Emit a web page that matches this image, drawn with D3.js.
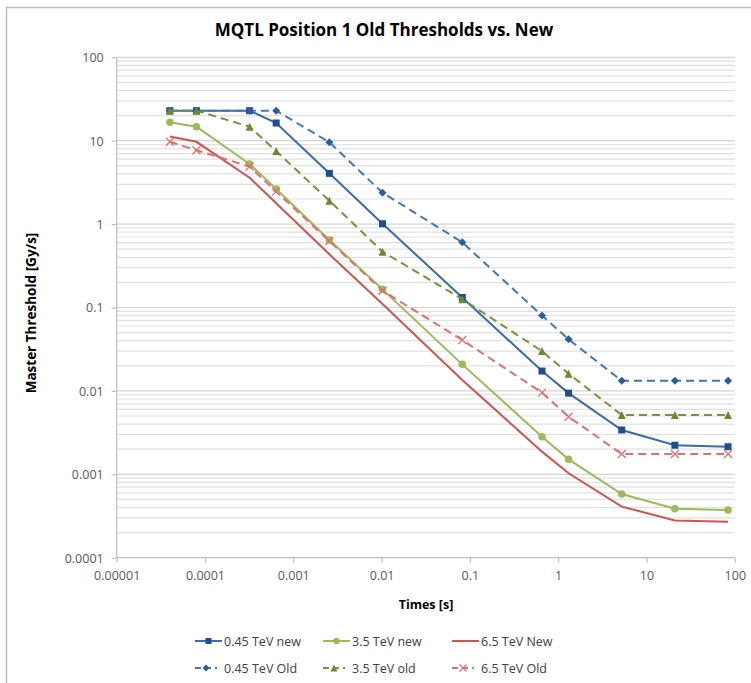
<!DOCTYPE html>
<html><head><meta charset="utf-8">
<script src="https://cdn.jsdelivr.net/npm/d3@7"></script>
<style>body{margin:0;background:#fff;} svg{display:block;}</style>
</head><body>
<svg id="c" width="751" height="683"></svg>
<script>
const times = [4e-5, 8e-5, 3.2e-4, 6.4e-4, 2.56e-3, 1.024e-2, 8.192e-2, 0.65536, 1.31072, 5.24288, 20.97152, 83.88608];
const new045 = [22.9, 22.9, 22.9, 16.3, 4.06, 1.01, 0.132, 0.0173, 0.0094, 0.0034, 0.00223, 0.00214];
const new35  = [16.6, 14.7, 5.26, 2.64, 0.645, 0.165, 0.0208, 0.00282, 0.00151, 0.00058, 0.000387, 0.000373];
const new65  = [11.2, 9.7, 3.6, 1.78, 0.434, 0.110, 0.0135, 0.00187, 0.00103, 0.00041, 0.00028, 0.00027];
const old045 = [22.9, 22.9, 22.9, 22.9, 9.6, 2.38, 0.605, 0.080, 0.0416, 0.0132, 0.0132, 0.0132];
const old35  = [22.9, 22.9, 14.7, 7.5, 1.91, 0.467, 0.126, 0.030, 0.0161, 0.00514, 0.00514, 0.00514];
const old65  = [9.7, 7.7, 4.9, 2.45, 0.627, 0.159, 0.0408, 0.00953, 0.0049, 0.00175, 0.00175, 0.00175];
const seriesNames = ["0.45 TeV new", "3.5 TeV new", "6.5 TeV New", "0.45 TeV Old", "3.5 TeV old", "6.5 TeV Old"];
const xTickLabels = ["0.00001", "0.0001", "0.001", "0.01", "0.1", "1", "10", "100"];
const yTickLabels = ["0.0001", "0.001", "0.01", "0.1", "1", "10", "100"];
const title = "MQTL Position 1 Old Thresholds vs. New";
const xTitle = "Times [s]";
const yTitle = "Master Threshold [Gy/s]";

const styles = [
  {line:"#3B6BAA", fill:"#1F4E8C", dash:null, marker:"square"},
  {line:"#9BBB59", fill:"#9BBB59", dash:null, marker:"circle"},
  {line:"#D05450", fill:"#D05450", dash:null, marker:"none"},
  {line:"#4676B5", fill:"#2B5C9E", dash:"8,5", marker:"diamond"},
  {line:"#77933C", fill:"#6A8A30", dash:"8,5", marker:"triangle"},
  {line:"#E07070", fill:"#E07070", dash:"8,5", marker:"x"}
];
const data = [new045, new35, new65, old045, old35, old65];

const svg = d3.select("#c");
const font = "'Open Sans', 'Liberation Sans', sans-serif";

// chart border
svg.append("rect").attr("x",6.5).attr("y",7.5).attr("width",800).attr("height",800)
  .attr("fill","#fff").attr("stroke","#BDBDBD").attr("stroke-width",1.5);

const L = 116.7, R = 734.8, T = 57.3, B = 557.7;
const x = d3.scaleLog().domain([1e-5, 100]).range([L, R]);
const y = d3.scaleLog().domain([1e-4, 100]).range([B, T]);

// gridlines (major + minor)
const g = svg.append("g");
const majors = yTickLabels.map(Number);
const minorVals = [];
for (let e = -4; e < 2; e++) for (let k = 2; k <= 9; k++) minorVals.push(k * Math.pow(10, e));
g.selectAll("line.minor").data(minorVals).join("line")
  .attr("x1", L).attr("x2", R).attr("y1", d => y(d)).attr("y2", d => y(d))
  .attr("stroke", "#E1E1E1").attr("stroke-width", 1.2);
g.selectAll("line.major").data(majors.slice(1)).join("line")
  .attr("x1", L).attr("x2", R).attr("y1", d => y(d)).attr("y2", d => y(d))
  .attr("stroke", "#D4D4D4").attr("stroke-width", 1.2);

// axes
const xAxis = d3.axisBottom(x).tickValues(xTickLabels.map(Number)).tickFormat((d,i)=>xTickLabels[i]).tickSize(5).tickPadding(6);
const yAxis = d3.axisLeft(y).tickValues(majors).tickFormat((d,i)=>yTickLabels[i]).tickSize(5).tickPadding(8);
const gx = svg.append("g").attr("transform", `translate(0,${B})`).call(xAxis);
const gy = svg.append("g").attr("transform", `translate(${L},0)`).call(yAxis);
[gx, gy].forEach(a => {
  a.select(".domain").attr("stroke", "#BFBFBF").attr("stroke-width", 1.2);
  a.selectAll(".tick line").attr("stroke", "#BFBFBF").attr("stroke-width", 1.2);
  a.selectAll(".tick text").attr("fill", "#595959").style("font-family", font).style("font-size", "12.5px");
});
gx.select(".domain").attr("d", `M${L},0H${R}`);
gy.select(".domain").attr("d", `M0,${B}V${T}`);
gx.selectAll(".tick text").attr("dy", "0.9em");
gy.selectAll(".tick text").attr("dy", "0.35em");

// series
const lineGen = d3.line().x((d,i) => x(times[i])).y(d => y(d));
function drawMarker(sel, type, fill, cx, cy, s) {
  if (type === "square") sel.append("rect").attr("x", cx - s/2).attr("y", cy - s/2).attr("width", s).attr("height", s).attr("fill", fill);
  else if (type === "circle") sel.append("circle").attr("cx", cx).attr("cy", cy).attr("r", s/2).attr("fill", fill);
  else if (type === "diamond") sel.append("path").attr("d", `M${cx},${cy-s/2}L${cx+s/2},${cy}L${cx},${cy+s/2}L${cx-s/2},${cy}Z`).attr("fill", fill);
  else if (type === "triangle") sel.append("path").attr("d", `M${cx},${cy-s/2}L${cx+s/2},${cy+s/2}L${cx-s/2},${cy+s/2}Z`).attr("fill", fill);
  else if (type === "x") sel.append("path").attr("d", `M${cx-s/2},${cy-s/2}L${cx+s/2},${cy+s/2}M${cx-s/2},${cy+s/2}L${cx+s/2},${cy-s/2}`).attr("stroke", fill).attr("stroke-width", 1.3).attr("fill", "none");
}
const sizes = {square:7, circle:7.5, diamond:8, triangle:8, x:8, none:0};
data.forEach((vals, si) => {
  const st = styles[si];
  const sg = svg.append("g");
  sg.append("path").attr("d", lineGen(vals)).attr("fill", "none").attr("stroke", st.line)
    .attr("stroke-width", 2).attr("stroke-dasharray", st.dash);
  if (st.marker !== "none") vals.forEach((v, i) => drawMarker(sg, st.marker, st.fill, x(times[i]), y(v), sizes[st.marker]));
});

// titles
svg.append("text").attr("x", 384).attr("y", 36).attr("text-anchor", "middle")
  .style("font-family", font).style("font-size", "17px").style("font-weight", "bold").attr("fill", "#000").text(title);
svg.append("text").attr("x", 426).attr("y", 609).attr("text-anchor", "middle")
  .style("font-family", font).style("font-size", "12.5px").style("font-weight", "bold").attr("fill", "#000").text(xTitle);
svg.append("text").attr("transform", "translate(36,313) rotate(-90)").attr("text-anchor", "middle")
  .style("font-family", font).style("font-size", "13.5px").style("font-weight", "bold").attr("fill", "#000").text(yTitle);

// legend
const legPos = [[195, 641], [323, 641], [452, 641], [195, 668], [323, 668], [452, 668]];
seriesNames.forEach((name, si) => {
  const st = styles[si];
  const [lx, ly] = legPos[si];
  const lg = svg.append("g");
  const w = st.dash ? 22 : 27;
  lg.append("line").attr("x1", lx).attr("x2", lx + w).attr("y1", ly).attr("y2", ly)
    .attr("stroke", st.line).attr("stroke-width", 2).attr("stroke-dasharray", st.dash ? "6,4" : null);
  if (st.marker !== "none") drawMarker(lg, st.marker, st.fill, lx + w/2, ly, sizes[st.marker] - 1);
  lg.append("text").attr("x", lx + 29).attr("y", ly + 4.5)
    .style("font-family", font).style("font-size", "12.5px").attr("fill", "#404040").text(name);
});
</script>
</body></html>
